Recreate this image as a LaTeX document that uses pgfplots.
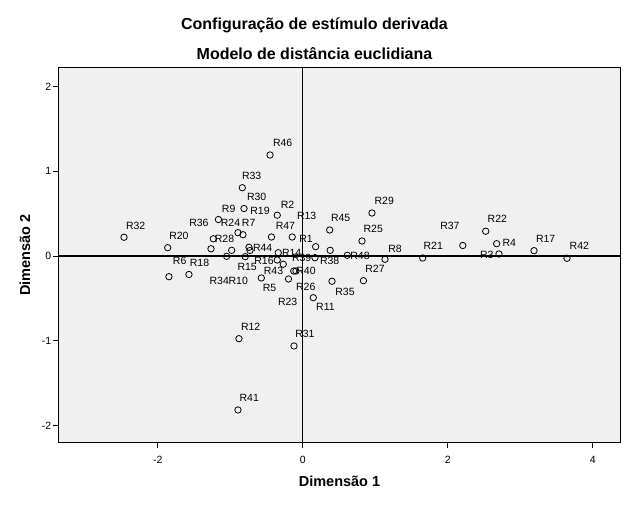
\documentclass[border=0pt]{standalone}
\usepackage{fontspec}
\setmainfont{Liberation Sans}
\usepackage{pgfplots}
\pgfplotsset{compat=1.18}
\usepackage{pgfplotstable}
\definecolor{plotbg}{HTML}{F0F0F0}

\pgfplotstableread{
x y
-2.466 0.221
-1.863 0.098
-1.163 0.430
-0.834 0.805
-0.811 0.560
-0.894 0.275
-0.825 0.251
-1.234 0.203
-1.266 0.085
-0.981 0.067
-1.050 -0.004
-0.794 -0.008
-0.742 0.103
-0.728 0.065
-1.570 -0.218
-1.846 -0.244
-0.432 0.224
-0.352 0.481
-0.146 0.224
0.371 0.307
0.178 0.110
0.378 0.067
-0.338 0.039
-0.352 -0.047
-0.269 -0.097
0.168 -0.020
-0.125 -0.177
-0.094 -0.177
-0.197 -0.271
-0.572 -0.259
0.403 -0.298
0.145 -0.492
0.954 0.507
0.817 0.177
0.614 0.008
1.134 -0.039
0.837 -0.291
2.207 0.124
2.523 0.292
1.654 -0.024
2.674 0.145
2.706 0.024
3.189 0.063
3.644 -0.027
-0.880 -0.975
-0.121 -1.061
-0.894 -1.816
-0.452 1.191
}\points

\pgfplotstableread{
x y label
-2.305 0.354 R32
-1.708 0.236 R20
-1.432 0.386 R36
-0.705 0.943 R33
-0.636 0.699 R30
-1.022 0.554 R9
-0.590 0.534 R19
-0.997 0.386 R24
-0.746 0.386 R7
-1.080 0.203 R28
-0.553 0.094 R44
-0.211 0.601 R2
0.054 0.478 R13
-0.239 0.360 R47
0.044 0.200 R1
-0.153 0.041 R14
-0.015 -0.027 R39
0.371 -0.063 R38
-0.535 -0.055 R16
-0.404 -0.180 R43
0.044 -0.179 R40
-0.459 -0.374 R5
0.041 -0.369 R26
-0.208 -0.542 R23
0.313 -0.605 R11
-0.767 -0.126 R15
-1.152 -0.291 R34
-0.890 -0.291 R10
-1.425 -0.083 R18
-1.698 -0.061 R6
0.523 0.445 R45
1.124 0.649 R29
0.972 0.318 R25
0.789 -0.004 R48
1.272 0.083 R8
0.996 -0.153 R27
0.582 -0.421 R35
2.030 0.354 R37
1.800 0.118 R21
2.683 0.436 R22
2.848 0.150 R4
2.537 0.018 R3
3.350 0.200 R17
3.814 0.118 R42
-0.719 -0.834 R12
0.030 -0.920 R31
-0.738 -1.678 R41
-0.277 1.329 R46
}\labels

\begin{document}
\begin{tikzpicture}
\useasboundingbox (-58.3pt,-61.3pt) rectangle (570.7pt,442.7pt);
\begin{axis}[
  scale only axis,
  width=562.4pt, height=375.7pt,
  xmin=-3.372, xmax=4.385,
  ymin=-2.202, ymax=2.229,
  axis background/.style={fill=plotbg},
  axis line style={black, line width=0.8pt},
  tick align=outside,
  tick pos=left,
  major tick length=5pt,
  tick style={black, line width=0.8pt},
  xtick={-2,0,2,4}, xticklabels={-2,0,2,4},
  ytick={-2,-1,0,1,2}, yticklabels={-2,-1,0,1,2},
  tick label style={font=\fontsize{10.5}{12}\selectfont},
  xticklabel style={anchor=base, inner sep=0pt, yshift=-16pt},
  yticklabel style={anchor=east, inner sep=0pt, xshift=-2pt},
  xlabel={Dimensão 1},
  ylabel={Dimensão 2},
  label style={font=\fontsize{14.5}{16}\selectfont\bfseries},
  xlabel style={at={(axis description cs:0.5,-0.1033)}, anchor=center, inner sep=0pt},
  ylabel style={at={(axis description cs:-0.0592,0.5)}, anchor=center, inner sep=0pt},
  clip=false,
]
\addplot [black, line width=1.2pt, mark=none] coordinates {(-3.372,0) (4.385,0)};
\addplot [black, line width=1.2pt, mark=none] coordinates {(0,-2.202) (0,2.229)};
\addplot [draw=none, mark=none, nodes near coords, point meta=explicit symbolic,
  every node near coord/.append style={anchor=center, inner sep=0pt, font=\fontsize{10.5}{12}\selectfont, black}]
  table [x=x, y=y, meta=label] {\labels};
\addplot [only marks, mark=o, mark size=3.2pt, mark options={black, line width=0.8pt}]
  table [x=x, y=y] {\points};
\end{axis}
\node[anchor=base, font=\fontsize{16}{18}\selectfont\bfseries] at (256.2pt,413.4pt) {Configuração de estímulo derivada};
\node[anchor=base, font=\fontsize{16}{18}\selectfont\bfseries] at (256.2pt,382.7pt) {Modelo de distância euclidiana};
\end{tikzpicture}
\end{document}
